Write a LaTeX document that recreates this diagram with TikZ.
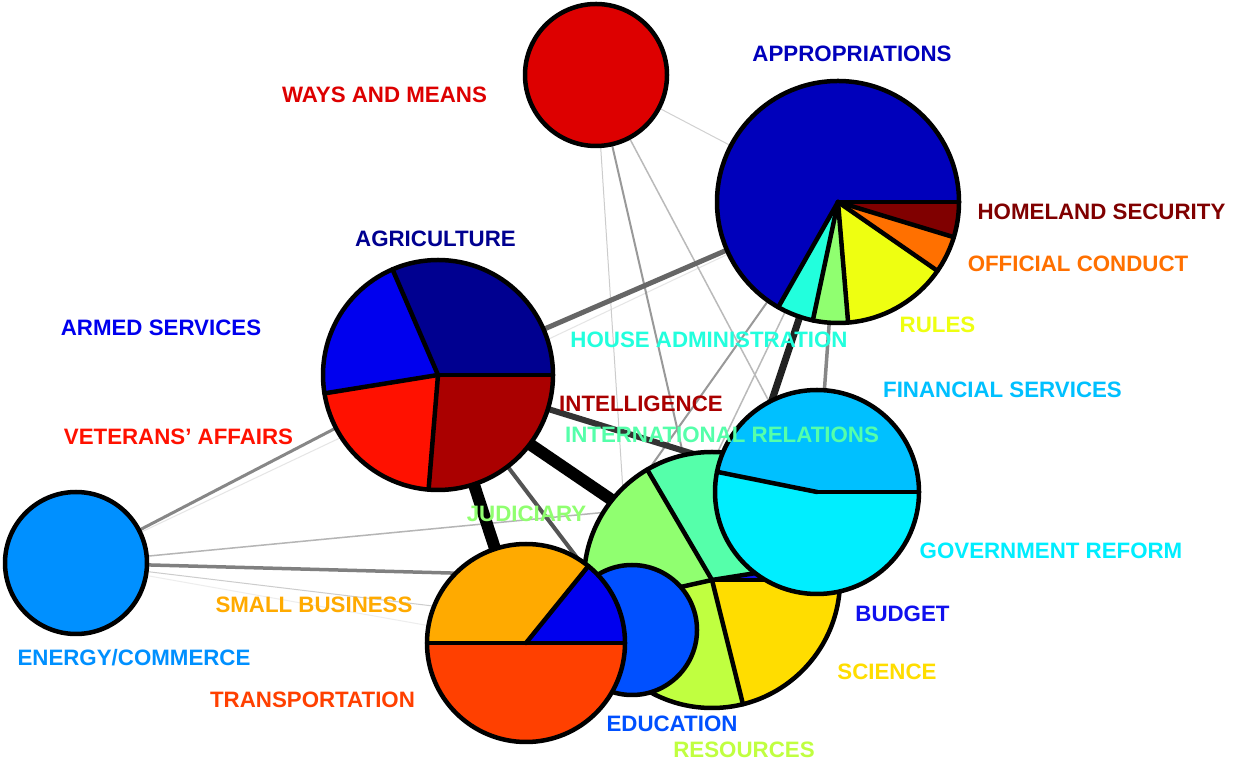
\documentclass[tikz,border=0pt]{standalone}
\usepackage{fontspec}
\setmainfont{Liberation Sans}
\definecolor{cwm}{HTML}{DD0000}
\definecolor{capp}{HTML}{0000BB}
\definecolor{chome}{HTML}{800000}
\definecolor{coff}{HTML}{FF7000}
\definecolor{crules}{HTML}{EEFF11}
\definecolor{cagri}{HTML}{000090}
\definecolor{carmed}{HTML}{0000EE}
\definecolor{chouse}{HTML}{22FFDD}
\definecolor{cfin}{HTML}{00C0FF}
\definecolor{cintel}{HTML}{AA0000}
\definecolor{cvet}{HTML}{FF1100}
\definecolor{cintrel}{HTML}{55FFAA}
\definecolor{cjud}{HTML}{90FF70}
\definecolor{cgov}{HTML}{00EEFF}
\definecolor{csmall}{HTML}{FFAA00}
\definecolor{cbudget}{HTML}{1010EE}
\definecolor{cenergy}{HTML}{0090FF}
\definecolor{csci}{HTML}{FFDD00}
\definecolor{ctransp}{HTML}{FF4000}
\definecolor{cedu}{HTML}{0050FF}
\definecolor{cres}{HTML}{C0FF40}
\newcommand{\myslice}[5]{\fill[#5] (#1) -- ++(#2:#4) arc[start angle=#2,end angle=#3,radius=#4] -- cycle;}
\begin{document}
\begin{tikzpicture}[x=1pt,y=1pt,
  pienode/.style={circle,inner sep=0pt,minimum size=#1},
  pieline/.style={line width=4.5pt,draw=black,line cap=round,line join=round},
  lnk/.style 2 args={line width=#1,draw=black!#2},
  lab/.style={anchor=base,inner sep=0pt,font=\fontsize{22.3}{26}\selectfont\bfseries}]
\useasboundingbox (0,0) rectangle (1239,765);
\fill[white] (0,0) rectangle (1239,765);
% node positions
\node[pienode=142pt] (wm) at (596,690) {};
\node[pienode=242pt] (approp) at (838,563) {};
\node[pienode=230pt] (agri) at (438,390) {};
\node[pienode=142pt] (energy) at (76,202) {};
\node[pienode=256pt] (big) at (712,185) {};
\node[pienode=204pt] (fin) at (817,273) {};
\node[pienode=130pt] (edu) at (632,135) {};
\node[pienode=198pt] (transp) at (526,122) {};
\coordinate (aA) at (440,382);
\coordinate (aB) at (700,205);
% edges
\draw[lnk={1pt}{10}] (energy.center) -- (approp.center);
\draw[lnk={1pt}{7}] (energy.center) -- (transp.center);
\draw[lnk={1pt}{20}] (energy.center) -- (edu.center);
\draw[lnk={1.5pt}{29}] (energy.center) -- (fin.center);
\draw[lnk={3.5pt}{50}] (energy.center) -- (big.center);
\draw[lnk={3pt}{47}] (energy.center) -- (agri.center);
\draw[lnk={1pt}{18}] (wm.center) -- (approp.center);
\draw[lnk={1pt}{20}] (wm.center) -- (edu.center);
\draw[lnk={2pt}{40}] (wm.center) -- (big.center);
\draw[lnk={1.5pt}{27}] (wm.center) -- (fin.center);
\draw[lnk={1.5pt}{27}] (approp.center) -- (edu.center);
\draw[lnk={2pt}{40}] (approp.center) -- (transp.center);
\draw[lnk={3.5pt}{47}] (approp.center) -- (fin.center);
\draw[lnk={7pt}{87}] (approp.center) -- (big.center);
\draw[lnk={5pt}{60}] (agri.center) -- (approp.center);
\draw[lnk={6pt}{80}] (agri.center) -- (fin.center);
\draw[lnk={4pt}{67}] (agri.center) -- (edu.center);
\draw[lnk={12pt}{100}] (agri.center) -- (transp.center);
\draw[lnk={12pt}{100}] (aA) -- (aB);
% Ways and Means
\fill[cwm] (wm.center) circle[radius=71];
\draw[pieline] (wm.center) circle[radius=71];
% Appropriations
\myslice{approp.center}{0}{240.4}{121}{capp}
\myslice{approp.center}{240.4}{258}{121}{chouse}
\myslice{approp.center}{258}{274.8}{121}{cjud}
\myslice{approp.center}{274.8}{325.3}{121}{crules}
\myslice{approp.center}{325.3}{343.1}{121}{coff}
\myslice{approp.center}{343.1}{360}{121}{chome}
\foreach \a in {0,240.4,258,274.8,325.3,343.1} \draw[pieline] (approp.center) -- ++(\a:121);
\draw[pieline] (approp.center) circle[radius=121];
% Agriculture
\myslice{agri.center}{0}{113.3}{115}{cagri}
\myslice{agri.center}{113.3}{189.2}{115}{carmed}
\myslice{agri.center}{189.2}{265.3}{115}{cvet}
\myslice{agri.center}{265.3}{360}{115}{cintel}
\foreach \a in {0,113.3,189.2,265.3} \draw[pieline] (agri.center) -- ++(\a:115);
\draw[pieline] (agri.center) circle[radius=115];
% Energy
\fill[cenergy] (energy.center) circle[radius=71];
\draw[pieline] (energy.center) circle[radius=71];
% central pie
\myslice{big.center}{0}{9}{128}{cbudget}
\myslice{big.center}{9}{120.4}{128}{cintrel}
\myslice{big.center}{120.4}{192.6}{128}{cjud}
\myslice{big.center}{192.6}{284}{128}{cres}
\myslice{big.center}{284}{360}{128}{csci}
\foreach \a in {0,9,120.4,192.6,284} \draw[pieline] (big.center) -- ++(\a:128);
\draw[pieline] (big.center) circle[radius=128];
% Financial
\myslice{fin.center}{0}{168.6}{102}{cfin}
\myslice{fin.center}{168.6}{360}{102}{cgov}
\foreach \a in {0,168.6} \draw[pieline] (fin.center) -- ++(\a:102);
\draw[pieline] (fin.center) circle[radius=102];
% Education
\fill[cedu] (edu.center) circle[radius=65];
\draw[pieline] (edu.center) circle[radius=65];
% Transportation
\myslice{transp.center}{0}{51}{99}{carmed}
\myslice{transp.center}{51}{180}{99}{csmall}
\myslice{transp.center}{180}{360}{99}{ctransp}
\foreach \a in {0,51,180} \draw[pieline] (transp.center) -- ++(\a:99);
\draw[pieline] (transp.center) circle[radius=99];
% labels
\node[lab,text=cwm] (lwm) at (384.5,662) {WAYS AND MEANS};
\node[lab,text=capp] (lapp) at (852,703) {APPROPRIATIONS};
\node[lab,text=chome] (lhome) at (1101.5,545) {HOMELAND SECURITY};
\node[lab,text=coff] (loff) at (1078,493) {OFFICIAL CONDUCT};
\node[lab,text=crules] (lrules) at (937.5,432) {RULES};
\node[lab,text=cagri] (lagri) at (435.5,518) {AGRICULTURE};
\node[lab,text=carmed] (larmed) at (161,429) {ARMED SERVICES};
\node[lab,text=chouse] (lhouse) at (709,417) {HOUSE ADMINISTRATION};
\node[lab,text=cfin] (lfin) at (1002.5,367) {FINANCIAL SERVICES};
\node[lab,text=cintel] (lintel) at (641,353) {INTELLIGENCE};
\node[lab,text=cvet] (lvet) at (178.5,320) {VETERANS’ AFFAIRS};
\node[lab,text=cintrel] (lintrel) at (722,322) {INTERNATIONAL RELATIONS};
\node[lab,text=cjud] (ljud) at (526.5,243) {JUDICIARY};
\node[lab,text=cgov] (lgov) at (1051,206) {GOVERNMENT REFORM};
\node[lab,text=csmall] (lsmall) at (314,152) {SMALL BUSINESS};
\node[lab,text=cbudget] (lbudget) at (902.5,143) {BUDGET};
\node[lab,text=cenergy] (lenergy) at (134,99) {ENERGY/COMMERCE};
\node[lab,text=csci] (lsci) at (887,85) {SCIENCE};
\node[lab,text=ctransp] (ltransp) at (312.5,57) {TRANSPORTATION};
\node[lab,text=cedu] (ledu) at (672,33) {EDUCATION};
\node[lab,text=cres] (lres) at (744,7) {RESOURCES};
\end{tikzpicture}
\end{document}
